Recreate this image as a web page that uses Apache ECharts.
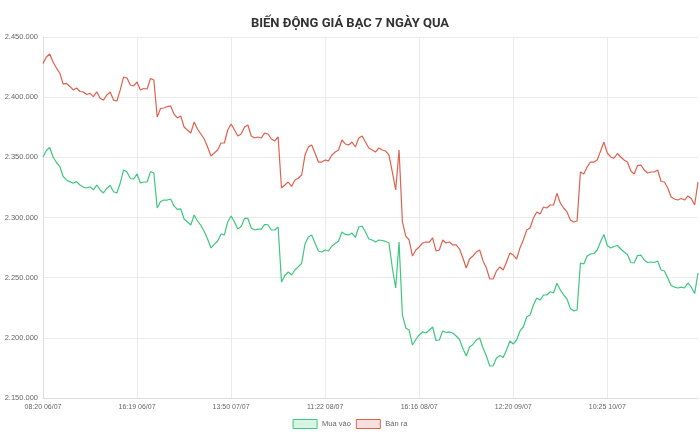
<!DOCTYPE html>
<html>
<head>
<meta charset="utf-8">
<script src="https://cdn.jsdelivr.net/npm/echarts@6/dist/echarts.min.js"></script>
<style>
  html, body { margin: 0; padding: 0; background: #fff; }
  #chart { width: 700px; height: 438px; }
</style>
</head>
<body>
<div id="chart"></div>
<script>
// nhãn trục thời gian (mỗi 28 điểm)
const tickLabels = ['08:20 06/07', '16:19 06/07', '13:50 07/07', '11:22 08/07', '16:16 08/07', '12:20 09/07', '10:25 10/07'];
const tickStep = 28;

// giá bán ra
const sellPrice = [
  2428100, 2433400, 2435900, 2429200, 2424200, 2420100, 2410900, 2411400, 2408900, 2406000,
  2407600, 2404700, 2404300, 2402200, 2403200, 2400400, 2404500, 2399100, 2397600, 2401800,
  2404300, 2397600, 2396800, 2406000, 2416800, 2415900, 2410100, 2409300, 2412600, 2406000,
  2407200, 2406800, 2415500, 2414300, 2383500, 2390700, 2391000, 2392200, 2392700, 2386000,
  2382700, 2384400, 2375200, 2372700, 2370200, 2379400, 2373500, 2369400, 2365200, 2358600,
  2351100, 2353600, 2356100, 2361900, 2361900, 2372700, 2377700, 2372700, 2367700, 2369400,
  2375200, 2376900, 2367700, 2366100, 2366900, 2366100, 2370200, 2369400, 2365200, 2363600,
  2366900, 2324500, 2327000, 2329500, 2325800, 2331200, 2332600, 2335300, 2351900, 2358600,
  2360300, 2353400, 2346100, 2346100, 2347800, 2347000, 2351900, 2354400, 2356100, 2364400,
  2361100, 2360300, 2362700, 2358600, 2366100, 2367700, 2362700, 2357800, 2356100, 2354400,
  2357800, 2356100, 2355300, 2351900, 2337800, 2322900, 2356100, 2296300, 2284600, 2281300,
  2268000, 2273000, 2275500, 2278800, 2279600, 2279600, 2283000, 2272200, 2273000, 2281300,
  2278800, 2279600, 2277200, 2277200, 2273800, 2266300, 2258000, 2265500, 2268000, 2271300,
  2273000, 2263900, 2258000, 2248900, 2248900, 2255500, 2258900, 2256400, 2263000, 2270500,
  2268800, 2265500, 2274700, 2281300, 2289600, 2291300, 2299600, 2304600, 2302900, 2308700,
  2307900, 2310400, 2310400, 2320100, 2312100, 2307900, 2304600, 2297900, 2296300, 2297100,
  2337800, 2336200, 2342000, 2346100, 2346100, 2347800, 2355300, 2362700, 2353600, 2350300,
  2349400, 2353200, 2350300, 2347800, 2346100, 2338600, 2336200, 2343200, 2343600, 2339500,
  2337000, 2337800, 2337800, 2339500, 2329900, 2329500, 2324500, 2317000, 2315400, 2314500,
  2315800, 2314500, 2317900, 2315800, 2310400, 2329500
];

// giá mua vào
const buyPrice = [
  2350300, 2355700, 2358200, 2350300, 2345700, 2342400, 2334100, 2331200, 2329800, 2328400,
  2329800, 2327000, 2325300, 2324500, 2325600, 2322900, 2327000, 2322900, 2320400, 2324300,
  2326600, 2321400, 2320400, 2328700, 2339500, 2337800, 2332400, 2332000, 2336200, 2328700,
  2329500, 2329500, 2338100, 2337000, 2307900, 2313300, 2314500, 2314500, 2315400, 2309600,
  2306700, 2307100, 2298800, 2296300, 2293800, 2302100, 2297100, 2293400, 2288400, 2282100,
  2274700, 2277600, 2280500, 2286300, 2285500, 2296300, 2301300, 2296300, 2290400, 2292500,
  2299200, 2299200, 2291300, 2289600, 2290400, 2290400, 2294200, 2293800, 2289600, 2289600,
  2292100, 2246400, 2251800, 2254700, 2252200, 2256400, 2259100, 2261900, 2278000, 2283800,
  2285500, 2278600, 2272200, 2271300, 2273000, 2272200, 2276300, 2278400, 2280500, 2288000,
  2285900, 2285500, 2287100, 2283400, 2292100, 2292900, 2288000, 2282100, 2281300, 2279600,
  2281300, 2280900, 2280100, 2278800, 2258000, 2241400, 2279600, 2219000, 2208200, 2206500,
  2194000, 2198600, 2202400, 2204900, 2204000, 2206500, 2209000, 2197800, 2198200, 2205700,
  2204400, 2204900, 2204000, 2201500, 2198600, 2191100, 2184900, 2192400, 2194500, 2198200,
  2199900, 2191600, 2184900, 2176600, 2176600, 2183200, 2185300, 2183700, 2189900, 2197400,
  2194900, 2198200, 2205700, 2209000, 2217300, 2219000, 2227300, 2233100, 2231400, 2235600,
  2235600, 2238300, 2237300, 2245300, 2239800, 2235600, 2232300, 2224400, 2222300, 2223100,
  2262200, 2261400, 2268000, 2269700, 2270100, 2273000, 2280100, 2285900, 2276700, 2274700,
  2275900, 2276700, 2273800, 2271300, 2269300, 2262600, 2262200, 2268400, 2268800, 2264700,
  2262600, 2263000, 2262600, 2263900, 2256400, 2255500, 2249700, 2243500, 2242200, 2241400,
  2242200, 2241400, 2245600, 2242200, 2236800, 2253900
];

const buyColor = '#3ec77f';
const sellColor = '#e0614f';

let categories = buyPrice.map((v, i) => (i % tickStep === 0 ? tickLabels[i / tickStep] : ''));

function fmt(v) {
  return String(v).replace(/\B(?=(\d{3})+(?!\d))/g, '.');
}

let myChart = echarts.init(document.getElementById('chart'));
let option = {
  animation: false,
  title: {
    text: 'BIẾN ĐỘNG GIÁ BẠC 7 NGÀY QUA',
    left: 'center',
    top: 12,
    textStyle: {
      fontFamily: 'Roboto',
      fontSize: 13,
      fontWeight: 'bold',
      color: '#333',
    },
  },
  legend: {
    bottom: 4,
    left: 'center',
    icon: 'rect',
    itemWidth: 24,
    itemHeight: 9,
    itemGap: 5,
    textStyle: { fontSize: 7.5, color: '#666', fontFamily: 'Liberation Sans' },
    data: [
      { name: 'Mua vào', itemStyle: { color: 'rgba(62,199,127,0.2)', borderColor: buyColor, borderWidth: 1 } },
      { name: 'Bán ra', itemStyle: { color: 'rgba(224,97,79,0.2)', borderColor: sellColor, borderWidth: 1 } },
    ],
  },
  grid: { left: 43, right: 2, top: 37, bottom: 40 },
  xAxis: {
    type: 'category',
    data: categories,
    boundaryGap: false,
    axisLine: { lineStyle: { color: '#ddd' } },
    axisTick: { show: false },
    axisLabel: {
      interval: tickStep - 1,
      fontSize: 7,
      color: '#666',
      margin: 6,
      fontFamily: 'Liberation Sans',
    },
    splitLine: {
      show: true,
      interval: tickStep - 1,
      lineStyle: { color: '#ebebeb' },
    },
  },
  yAxis: {
    type: 'value',
    min: 2150000,
    max: 2450000,
    interval: 50000,
    axisLine: { show: true, lineStyle: { color: '#ddd' } },
    axisTick: { show: false },
    axisLabel: {
      formatter: fmt,
      fontSize: 7.5,
      color: '#666',
      margin: 5,
      fontFamily: 'Liberation Sans',
    },
    splitLine: { lineStyle: { color: '#ebebeb' } },
  },
  series: [
    {
      name: 'Mua vào',
      type: 'line',
      data: buyPrice,
      showSymbol: false,
      lineStyle: { color: buyColor, width: 1.2 },
      itemStyle: { color: buyColor },
    },
    {
      name: 'Bán ra',
      type: 'line',
      data: sellPrice,
      showSymbol: false,
      lineStyle: { color: sellColor, width: 1.2 },
      itemStyle: { color: sellColor },
    },
  ],
};
myChart.setOption(option);
window.addEventListener('resize', function () {
  myChart.resize();
});
</script>
</body>
</html>
